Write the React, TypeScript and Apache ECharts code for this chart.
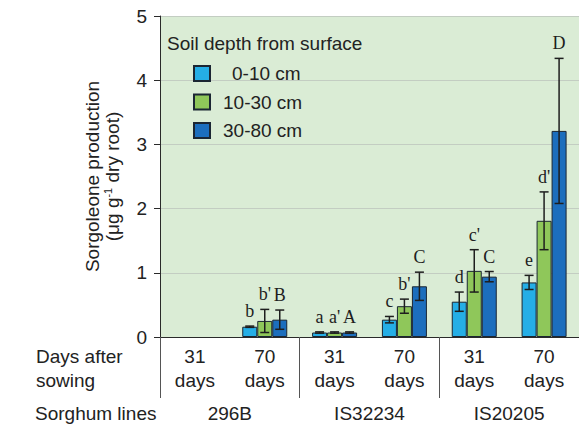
import React, { useEffect, useRef } from "react";
import * as echarts from "echarts";

const categories = ["31\ndays", "70\ndays", "31\ndays", "70\ndays", "31\ndays", "70\ndays"];
const sorghumLines = ["296B", "IS32234", "IS20205"];
const depthNames = ["0-10 cm", "10-30 cm", "30-80 cm"];

const mean0to10 = [null, 0.16, 0.07, 0.27, 0.55, 0.85];
const err0to10 = [null, 0.01, 0.01, 0.05, 0.15, 0.11];
const letters0to10 = ["", "b", "a", "c", "d", "e"];

const mean10to30 = [null, 0.25, 0.07, 0.48, 1.03, 1.81];
const err10to30 = [null, 0.18, 0.01, 0.11, 0.33, 0.45];
const letters10to30 = ["", "b'", "a'", "b'", "c'", "d'"];

const mean30to80 = [null, 0.27, 0.07, 0.79, 0.94, 3.21];
const err30to80 = [null, 0.15, 0.01, 0.22, 0.08, 1.13];
const letters30to80 = ["", "B", "A", "C", "C", "D"];

const yTicks = [0, 1, 2, 3, 4, 5];

const colors = ["#25aee6", "#8fc75a", "#1c6ebd"];
const SANS = "'Liberation Sans', Arial, sans-serif";
const SERIF = "'Liberation Serif', 'Times New Roman', serif";
const BAR_W = 15;
const FS = 19;

export default function App() {
  const ref = useRef<HTMLDivElement>(null);

  useEffect(() => {
    if (!ref.current) return;
    const chart = echarts.init(ref.current, undefined, { renderer: "svg" });

    const means = [mean0to10, mean10to30, mean30to80];
    const errs = [err0to10, err10to30, err30to80];
    const letters = [letters0to10, letters10to30, letters30to80];

    const barSeries = depthNames.map((name, k) => ({
      name,
      type: "bar",
      barWidth: BAR_W,
      barGap: "0%",
      data: means[k],
      itemStyle: { color: colors[k], borderColor: "#1b2633", borderWidth: 1 },
      z: 2,
    }));

    const errSeries = depthNames.map((name, k) => ({
      name: name + " error",
      type: "custom",
      z: 5,
      data: means[k]
        .map((m, i) => (m == null ? null : [i, m, errs[k][i] as number]))
        .filter((d) => d != null),
      renderItem: (params: any, api: any) => {
        const idx = api.value(0);
        const mean = api.value(1);
        const err = api.value(2);
        const base = api.coord([idx, 0]);
        const x = base[0] + (k - 1) * BAR_W;
        const top = api.coord([idx, mean + err])[1];
        const bot = api.coord([idx, Math.max(mean - err, 0)])[1];
        const cap = 4.5;
        const ls = { stroke: "#1e1e1e", lineWidth: 1.5 };
        return {
          type: "group",
          children: [
            { type: "line", shape: { x1: x, y1: top, x2: x, y2: bot }, style: ls },
            { type: "line", shape: { x1: x - cap, y1: top, x2: x + cap, y2: top }, style: ls },
            { type: "line", shape: { x1: x - cap, y1: bot, x2: x + cap, y2: bot }, style: ls },
            {
              type: "text",
              x: x,
              y: top - 6,
              style: {
                text: letters[k][idx],
                align: "center",
                verticalAlign: "bottom",
                fontSize: 18,
                fontFamily: SERIF,
                fill: "#1e1e1e",
              },
            },
          ],
        };
      },
    }));

    chart.setOption({
      animation: false,
      backgroundColor: "#ffffff",
      textStyle: { fontFamily: SANS },
      title: {
        text: "Soil depth from surface",
        left: 167,
        top: 33,
        padding: 0,
        textStyle: { fontSize: FS, fontWeight: "normal", color: "#222", fontFamily: SANS, lineHeight: 20 },
      },
      legend: {
        data: depthNames,
        orient: "vertical",
        left: 193,
        top: 64,
        padding: 0,
        itemWidth: 16,
        itemHeight: 15,
        itemGap: 9.5,
        icon: "rect",
        formatter: (name: string) => (name === "0-10 cm" ? "{w| }" : "{n| }") + name,
        textStyle: {
          fontSize: FS,
          color: "#222",
          fontFamily: SANS,
          rich: {
            w: { width: 17, fontSize: FS },
            n: { width: 8, fontSize: FS },
          },
        },
      },
      grid: {
        left: 160,
        right: -1,
        top: 16,
        bottom: 91,
        show: true,
        backgroundColor: "#daecd5",
        borderWidth: 0,
        containLabel: false,
      },
      xAxis: [
        {
          type: "category",
          data: categories,
          position: "bottom",
          axisLine: { show: true, lineStyle: { color: "#2a2a2a", width: 1 } },
          axisTick: { show: false },
          axisLabel: {
            margin: 7,
            fontSize: FS,
            lineHeight: 24,
            color: "#222",
            fontFamily: SANS,
            interval: 0,
          },
          splitLine: { show: false },
        },
        {
          type: "category",
          data: sorghumLines,
          position: "bottom",
          offset: 0,
          axisLine: { show: false },
          axisTick: { show: true, length: 61, lineStyle: { color: "#555", width: 1 } },
          axisLabel: {
            margin: 66,
            fontSize: FS,
            lineHeight: 20,
            color: "#222",
            fontFamily: SANS,
            interval: 0,
          },
          splitLine: { show: false },
        },
      ],
      yAxis: {
        type: "value",
        min: yTicks[0],
        max: yTicks[yTicks.length - 1],
        interval: 1,
        name: "Sorgoleone production\n(μg g{sup|-1} dry root)",
        nameLocation: "middle",
        nameRotate: 90,
        nameGap: 38,
        nameTextStyle: {
          fontSize: FS,
          lineHeight: 20,
          color: "#222",
          fontFamily: SANS,
          rich: {
            sup: { fontSize: 11, lineHeight: 20, verticalAlign: "top", fontFamily: SANS, color: "#222" },
          },
        },
        axisLine: { show: true, lineStyle: { color: "#2a2a2a", width: 1 } },
        axisTick: { show: true, length: 6, lineStyle: { color: "#2a2a2a" } },
        axisLabel: { margin: 13, fontSize: FS, color: "#222", fontFamily: SANS },
        splitLine: { show: true, lineStyle: { color: "#c3cdc2", width: 1 } },
      },
      graphic: [
        {
          type: "text",
          left: 36,
          top: 344,
          style: { text: "Days after\nsowing", fontSize: FS, lineHeight: 24, fill: "#222", fontFamily: SANS },
        },
        {
          type: "text",
          left: 35,
          top: 403,
          style: { text: "Sorghum lines", fontSize: FS, lineHeight: 20, fill: "#222", fontFamily: SANS },
        },
      ],
      series: [...barSeries, ...errSeries],
    });

    return () => chart.dispose();
  }, []);

  return (
    <div
      ref={ref}
      style={{ position: "fixed", left: 0, top: 0, width: 579, height: 428, background: "#fff" }}
    />
  );
}
